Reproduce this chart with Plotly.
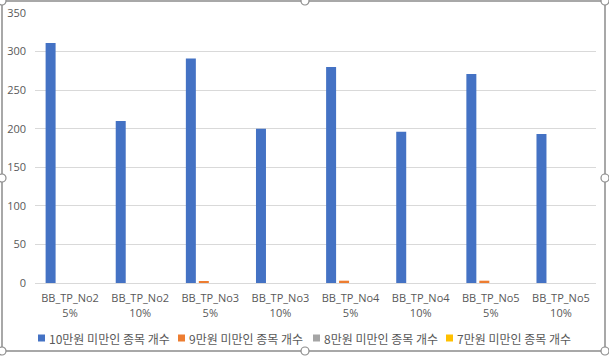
import plotly.graph_objects as go

categories = ["BB_TP_No2<br>5%", "BB_TP_No2<br>10%", "BB_TP_No3<br>5%", "BB_TP_No3<br>10%",
              "BB_TP_No4<br>5%", "BB_TP_No4<br>10%", "BB_TP_No5<br>5%", "BB_TP_No5<br>10%"]
series_names = ["10만원 미만인 종목 개수", "9만원 미만인 종목 개수", "8만원 미만인 종목 개수", "7만원 미만인 종목 개수"]
under_10 = [311, 210, 291, 200, 280, 196, 271, 193]
under_9 = [0, 0, 2, 0, 3, 0, 3, 0]
under_8 = [0, 0, 0, 0, 0, 0, 0, 0]
under_7 = [0, 0, 0, 0, 0, 0, 0, 0]
colors = ["#4472C4", "#ED7D31", "#A5A5A5", "#FFC000"]
y_ticks = [0, 50, 100, 150, 200, 250, 300, 350]

fig = go.Figure()
for name, vals, c in zip(series_names, [under_10, under_9, under_8, under_7], colors):
    fig.add_trace(go.Bar(x=categories, y=vals, name=name, marker=dict(color=c, line=dict(width=0)),
                         showlegend=False))

# pixel -> paper helpers (plot area fixed in pixels)
L, R, T, B = 35, 596, 13, 283
W, H = R - L, B - T
def px(x):
    return (x - L) / W
def py(y):
    return (B - y) / H

# chart frame with handles
shapes = [dict(type="rect", xref="paper", yref="paper", x0=px(2), x1=px(605), y0=py(351), y1=py(1),
               line=dict(color="#8C8C8C", width=1.5), fillcolor="rgba(0,0,0,0)", layer="above")]
for hx, hy in [(2, 1), (305, 1), (605, 1), (2, 178), (605, 178), (2, 351), (305, 351), (605, 351)]:
    shapes.append(dict(type="circle", xref="paper", yref="paper",
                       x0=px(hx - 4), x1=px(hx + 4), y0=py(hy + 4), y1=py(hy - 4),
                       line=dict(color="#8C8C8C", width=1.2), fillcolor="white", layer="above"))

# custom legend (compact, Excel-like)
annotations = []
legend_x = [38, 178, 313, 446]
legend_y = 338
for name, c, lx in zip(series_names, colors, legend_x):
    shapes.append(dict(type="rect", xref="paper", yref="paper",
                       x0=px(lx), x1=px(lx + 7), y0=py(legend_y + 3.5), y1=py(legend_y - 3.5),
                       line=dict(width=0), fillcolor=c, layer="above"))
    annotations.append(dict(xref="paper", yref="paper", x=px(lx + 9), y=py(legend_y),
                            xanchor="left", yanchor="middle", showarrow=False, text=name,
                            font=dict(family="Noto Sans CJK KR, sans-serif", size=12, color="#595959")))

fig.update_layout(
    width=609, height=357,
    margin=dict(l=L, r=609 - R, t=T, b=357 - B, autoexpand=False),
    paper_bgcolor="white", plot_bgcolor="white",
    barmode="group", bargap=0.26, bargroupgap=0.23,
    font=dict(family="Open Sans, Noto Sans, sans-serif", size=11, color="#595959"),
    showlegend=False,
    shapes=shapes,
    annotations=annotations,
)
fig.update_xaxes(showgrid=False, showline=True, linecolor="#D9D9D9", linewidth=1, ticks="",
                 automargin=False, ticklabelstandoff=5,
                 tickfont=dict(family="Open Sans, Noto Sans, sans-serif", size=11, color="#595959"))
fig.update_yaxes(range=[0, 350], tickvals=y_ticks, showgrid=True, gridcolor="#D9D9D9", gridwidth=1,
                 zeroline=False, showline=False, ticks="", ticklabelstandoff=8, automargin=False,
                 tickfont=dict(family="Open Sans, Noto Sans, sans-serif", size=11, color="#595959"))

fig.write_html("out.html", config={"displayModeBar": False},
               post_script="document.body.style.margin='0';document.body.style.overflow='hidden';")
